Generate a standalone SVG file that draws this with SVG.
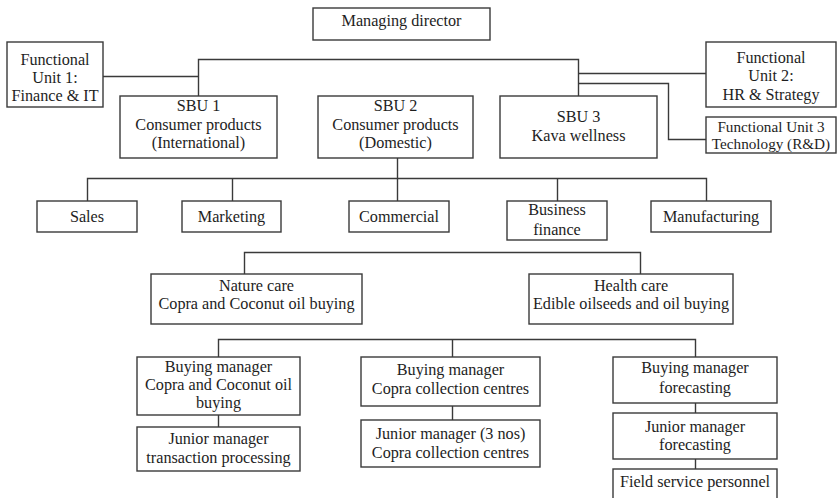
<svg xmlns="http://www.w3.org/2000/svg" width="837" height="498" viewBox="0 0 837 498">
  <style>
    .box { fill: #ffffff; stroke: #3a3a3a; stroke-width: 1.4; }
    .wire { fill: none; stroke: #3a3a3a; stroke-width: 1.4; }
    text { font-family: "Liberation Serif", "DejaVu Serif", serif; font-size: 16.2px; fill: #1e1e1e; text-anchor: middle; }
    .small { font-size: 15.2px; }
  </style>
  <rect width="837" height="498" fill="#ffffff"/>

  <!-- connectors -->
  <g id="connectors">
    <!-- top bus: functional unit 1, SBUs, functional units 2 and 3 -->
    <path class="wire" d="M103,76.5 H198.5"/>
    <path class="wire" d="M198.5,96 V59.5 H578.5 V96"/>
    <path class="wire" d="M578.5,73.5 H706"/>
    <path class="wire" d="M578.5,83.5 H668.5 V139.5 H706"/>
    <!-- SBU 2 departments -->
    <path class="wire" d="M397.5,158 V201"/>
    <path class="wire" d="M87.5,201 V178.5 H706.5 V201"/>
    <path class="wire" d="M232.5,178.5 V201"/>
    <path class="wire" d="M557.5,178.5 V201"/>
    <!-- nature care / health care -->
    <path class="wire" d="M244.5,274 V252.5 H640.5 V274"/>
    <!-- buying managers -->
    <path class="wire" d="M218.5,357 V339.5 H695.5 V357"/>
    <path class="wire" d="M452.5,339.5 V357"/>
    <!-- chains below buying managers -->
    <path class="wire" d="M218.5,415 V427"/>
    <path class="wire" d="M452.5,406 V420"/>
    <path class="wire" d="M695.5,403 V413"/>
    <path class="wire" d="M695.5,459 V469"/>
  </g>

  <g id="managing-director">
    <rect class="box" x="313" y="8" width="177" height="32"/>
    <text x="401.5" y="26">Managing director</text>
  </g>

  <g id="functional-unit-1">
    <rect class="box" x="7" y="42" width="96" height="65"/>
    <text x="55" y="64.5">Functional</text>
    <text x="55" y="82.5">Unit 1:</text>
    <text x="55" y="100.5">Finance &amp; IT</text>
  </g>

  <g id="functional-unit-2">
    <rect class="box" x="706" y="42" width="130" height="65"/>
    <text x="771" y="62.5">Functional</text>
    <text x="771" y="81">Unit 2:</text>
    <text x="771" y="99.5">HR &amp; Strategy</text>
  </g>

  <g id="functional-unit-3">
    <rect class="box" x="706" y="117" width="130" height="36"/>
    <text class="small" x="771" y="131.5">Functional Unit 3</text>
    <text class="small" x="771" y="149">Technology (R&amp;D)</text>
  </g>

  <g id="sbu-1">
    <rect class="box" x="120" y="96" width="157" height="62"/>
    <text x="198.5" y="111">SBU 1</text>
    <text x="198.5" y="129.5">Consumer products</text>
    <text x="198.5" y="148">(International)</text>
  </g>

  <g id="sbu-2">
    <rect class="box" x="318" y="96" width="155" height="62"/>
    <text x="395.5" y="111">SBU 2</text>
    <text x="395.5" y="129.5">Consumer products</text>
    <text x="395.5" y="148">(Domestic)</text>
  </g>

  <g id="sbu-3">
    <rect class="box" x="500" y="96" width="157" height="62"/>
    <text x="578.5" y="122">SBU 3</text>
    <text x="578.5" y="140.5">Kava wellness</text>
  </g>

  <g id="sales">
    <rect class="box" x="37" y="201" width="100" height="31"/>
    <text x="87" y="222">Sales</text>
  </g>

  <g id="marketing">
    <rect class="box" x="182" y="201" width="99" height="31"/>
    <text x="231.5" y="222">Marketing</text>
  </g>

  <g id="commercial">
    <rect class="box" x="349" y="201" width="100" height="31"/>
    <text x="399" y="222">Commercial</text>
  </g>

  <g id="business-finance">
    <rect class="box" x="507" y="201" width="100" height="39"/>
    <text x="557" y="215">Business</text>
    <text x="557" y="234.5">finance</text>
  </g>

  <g id="manufacturing">
    <rect class="box" x="651" y="201" width="120" height="31"/>
    <text x="711" y="222">Manufacturing</text>
  </g>

  <g id="nature-care">
    <rect class="box" x="151" y="274" width="211" height="50"/>
    <text x="256.5" y="291">Nature care</text>
    <text x="256.5" y="309">Copra and Coconut oil buying</text>
  </g>

  <g id="health-care">
    <rect class="box" x="529" y="274" width="204" height="50"/>
    <text x="631" y="291">Health care</text>
    <text x="631" y="309">Edible oilseeds and oil buying</text>
  </g>

  <g id="buying-manager-copra">
    <rect class="box" x="137" y="357" width="163" height="58"/>
    <text x="218.5" y="372">Buying manager</text>
    <text x="218.5" y="390">Copra and Coconut oil</text>
    <text x="218.5" y="408">buying</text>
  </g>

  <g id="junior-manager-transactions">
    <rect class="box" x="137" y="427" width="163" height="44"/>
    <text x="218.5" y="444">Junior manager</text>
    <text x="218.5" y="462.5">transaction processing</text>
  </g>

  <g id="buying-manager-collection">
    <rect class="box" x="361" y="357" width="179" height="49"/>
    <text x="450.5" y="375">Buying manager</text>
    <text x="450.5" y="394">Copra collection centres</text>
  </g>

  <g id="junior-manager-collection">
    <rect class="box" x="361" y="420" width="179" height="47"/>
    <text x="450.5" y="439">Junior manager (3 nos)</text>
    <text x="450.5" y="458">Copra collection centres</text>
  </g>

  <g id="buying-manager-forecasting">
    <rect class="box" x="613" y="357" width="164" height="46"/>
    <text x="695" y="373">Buying manager</text>
    <text x="695" y="392.5">forecasting</text>
  </g>

  <g id="junior-manager-forecasting">
    <rect class="box" x="613" y="413" width="164" height="46"/>
    <text x="695" y="432">Junior manager</text>
    <text x="695" y="450">forecasting</text>
  </g>

  <g id="field-service-personnel">
    <rect class="box" x="613" y="469" width="164" height="40"/>
    <text x="695" y="487">Field service personnel</text>
  </g>
</svg>
